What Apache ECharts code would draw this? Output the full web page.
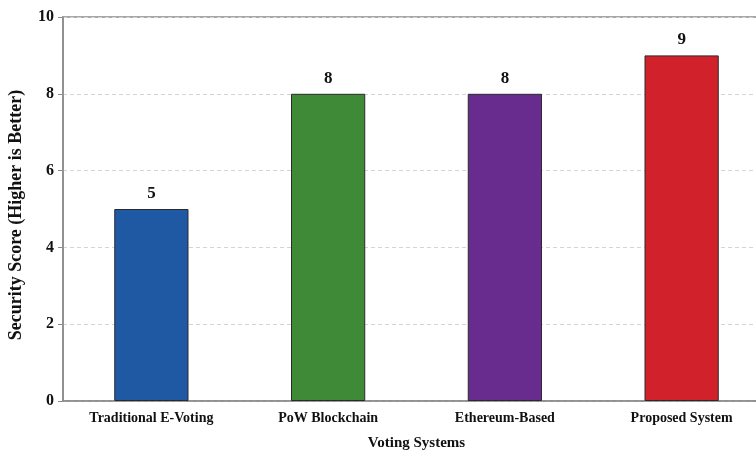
<!DOCTYPE html>
<html>
<head>
<meta charset="utf-8">
<script src="https://cdn.jsdelivr.net/npm/echarts@6/dist/echarts.min.js"></script>
<style>
  html, body { margin: 0; padding: 0; background: #fff; }
  #chart { width: 756px; height: 452px; }
</style>
</head>
<body>
<div id="chart"></div>
<script>
// Security score per voting system
const systems = ['Traditional E-Voting', 'PoW Blockchain', 'Ethereum-Based', 'Proposed System'];
const scores = [5, 8, 8, 9];
const barColors = ['#1f58a3', '#3f8a36', '#682c8e', '#d1222b'];
const yTicks = [0, 2, 4, 6, 8, 10];

const serif = '"Liberation Serif", "DejaVu Serif", serif';

const chart = echarts.init(document.getElementById('chart'), null, { renderer: 'canvas' });

chart.setOption({
  backgroundColor: '#ffffff',
  animation: false,
  grid: {
    // plot area runs past the right edge of the canvas
    left: 63, top: 17, right: -14, bottom: 51,
    outerBoundsMode: 'none',
    containLabel: false,
    show: true, borderColor: '#8a8a8a', borderWidth: 1.5, backgroundColor: 'transparent'
  },
  xAxis: {
    type: 'category',
    data: systems,
    name: 'Voting Systems',
    nameLocation: 'middle',
    nameGap: 35,
    nameTextStyle: { fontFamily: serif, fontWeight: 'bold', fontSize: 15, color: '#111' },
    axisLine: { lineStyle: { color: '#8a8a8a', width: 1.5 } },
    axisTick: { show: false },
    axisLabel: { fontFamily: serif, fontWeight: 'bold', fontSize: 14, color: '#111', margin: 10 }
  },
  yAxis: {
    type: 'value',
    min: yTicks[0],
    max: yTicks[yTicks.length - 1],
    interval: 2,
    name: 'Security Score (Higher is Better)',
    nameLocation: 'middle',
    nameGap: 38,
    nameTextStyle: {
      fontFamily: serif, fontWeight: 'bold', fontSize: 18, color: '#111',
      padding: [0, 12, 0, 0]
    },
    axisLine: { show: true, lineStyle: { color: '#8a8a8a', width: 1.5 } },
    axisTick: { show: true, length: 5, lineStyle: { color: '#8a8a8a' } },
    axisLabel: { fontFamily: serif, fontWeight: 'bold', fontSize: 16, color: '#111', margin: 9 },
    splitLine: { show: true, lineStyle: { color: '#d4d4d4', type: [4, 3], width: 1 } }
  },
  series: [{
    type: 'bar',
    barWidth: '42%',
    data: scores.map((v, i) => ({
      value: v,
      itemStyle: { color: barColors[i], borderColor: '#2a2a2a', borderWidth: 1 }
    })),
    label: {
      show: true,
      position: 'top',
      distance: 7,
      fontFamily: serif,
      fontWeight: 'bold',
      fontSize: 17,
      color: '#111'
    }
  }]
});
</script>
</body>
</html>
